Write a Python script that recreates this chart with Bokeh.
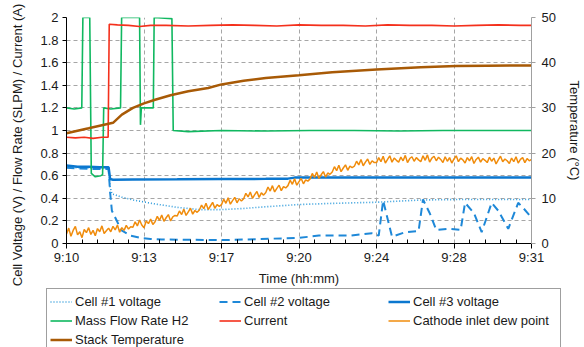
from bokeh.plotting import figure
from bokeh.layouts import column
from bokeh.models import Range1d, LinearAxis, FixedTicker, Legend, LegendItem
from bokeh.embed import file_html
from bokeh.resources import INLINE

FONT = "Liberation Sans"

# ---------------- data ----------------
# time is minutes after 9:10
x_ticks = [0, 3.5, 7, 10.5, 14, 17.5, 21]
x_tick_labels = ["9:10", "9:13", "9:17", "9:20", "9:24", "9:28", "9:31"]
y_left_ticks = [0, 0.2, 0.4, 0.6, 0.8, 1, 1.2, 1.4, 1.6, 1.8, 2]
y_left_labels = ["0", "0.2", "0.4", "0.6", "0.8", "1", "1.2", "1.4", "1.6", "1.8", "2"]
y_right_ticks = [0, 10, 20, 30, 40, 50]

c1_t = [0, 0.5, 1.0, 1.5, 1.9, 1.97, 2.05, 2.5, 3.0, 4.0, 5.0, 6.0, 7.0, 8.0, 9.0, 10.5, 12.0, 14.0, 16.0, 18.0, 21.0]
c1_v = [0.675, 0.67, 0.668, 0.665, 0.665, 0.5, 0.44, 0.41, 0.385, 0.35, 0.32, 0.30, 0.30, 0.31, 0.325, 0.345, 0.355, 0.365, 0.385, 0.39, 0.39]

c2_t = [0, 0.5, 1.0, 1.5, 1.9, 1.97, 2.05, 2.3, 2.45, 2.9, 3.35, 3.8, 4.3, 7.0, 8.0, 10.5, 11.4, 12.8, 13.8, 14.1,
        14.3, 14.7, 15.3, 15.9, 16.1, 16.4, 16.7, 17.3, 17.8, 18.0, 18.4, 18.75, 19.2, 19.5, 19.95, 20.4, 20.6, 21.0]
c2_v = [0.67, 0.665, 0.66, 0.66, 0.66, 0.45, 0.29, 0.19, 0.12, 0.07, 0.05, 0.04, 0.035, 0.03, 0.035, 0.05, 0.07, 0.07, 0.09, 0.07,
        0.38, 0.06, 0.1, 0.11, 0.39, 0.27, 0.12, 0.13, 0.12, 0.36, 0.27, 0.1, 0.36, 0.29, 0.13, 0.36, 0.32, 0.23]

c3_t = [0, 0.5, 1.0, 1.5, 1.9, 1.97, 2.1, 3, 5, 7, 9, 10, 10.3, 12, 15, 18, 21]
c3_v = [0.69, 0.68, 0.68, 0.675, 0.675, 0.57, 0.565, 0.567, 0.568, 0.57, 0.572, 0.574, 0.583, 0.584, 0.585, 0.585, 0.585]

flow_t = [0, 0.35, 0.69, 0.74, 1.05, 1.12, 1.3, 1.55, 1.63, 1.68, 2.0, 2.44, 2.49, 3.30, 3.34, 3.38, 3.92, 3.96, 4.76, 4.82,
          5.5, 7, 9, 11, 13, 15, 17, 19, 21]
flow_v = [1.2, 1.19, 1.2, 2.0, 2.0, 0.62, 0.59, 0.6, 0.61, 1.2, 1.19, 1.2, 2.0, 2.0, 1.05, 1.2, 1.2, 2.0, 1.99, 1.0,
          0.99, 1.0, 0.995, 1.0, 1.0, 0.995, 1.0, 1.0, 1.0]

cur_t = [0, 0.4, 0.8, 1.2, 1.6, 1.88, 1.93, 2.3, 2.8, 3.3, 3.8, 4.5, 5.5, 6.5, 7.5, 8.5, 9.5, 10.5, 11.5, 12.5,
         13.5, 14.5, 15.5, 16.5, 17.5, 18.5, 19.5, 20.5, 21]
cur_a = [0.94, 0.935, 0.94, 0.93, 0.94, 0.94, 1.94, 1.935, 1.93, 1.92, 1.93, 1.93, 1.925, 1.93, 1.935, 1.93, 1.925, 1.935, 1.93, 1.93,
         1.925, 1.935, 1.93, 1.93, 1.925, 1.93, 1.935, 1.93, 1.93]

# cathode inlet dew point (deg C), sampled every 0.1 min
dew_c = [
    2.1, 3.4, 1.6, 2.9, 3.8, 1.9, 2.6, 1.3, 3.1, 2.4,
    3.5, 2.0, 2.9, 1.7, 3.3, 2.6, 3.9, 2.2, 2.8, 3.4,
    2.6, 3.8, 3.0, 4.1, 2.5, 3.5, 2.9, 4.0, 3.2, 3.7,
    3.6, 4.8, 3.9, 5.2, 4.1, 3.5, 5.0, 4.4, 5.4, 4.2,
    4.8, 6.0, 5.1, 6.3, 4.9, 5.7, 6.4, 5.0, 5.9, 6.2,
    6.1, 7.2, 6.4, 7.6, 6.2, 7.0, 7.8, 6.5, 7.3, 6.9,
    7.4, 8.5, 7.7, 8.9, 7.5, 8.3, 9.1, 7.8, 8.6, 8.2,
    8.6, 9.8, 8.9, 10.1, 8.7, 9.5, 10.2, 9.0, 9.9, 9.4,
    9.9, 11.1, 10.3, 11.4, 10.0, 10.8, 11.5, 10.2, 11.2, 10.7,
    11.3, 12.5, 11.6, 12.8, 11.4, 12.2, 12.9, 11.7, 12.6, 12.3,
    12.8, 14.0, 13.1, 14.3, 12.9, 13.7, 14.4, 13.2, 14.1, 13.8,
    14.3, 15.5, 14.6, 15.8, 14.4, 15.2, 15.9, 14.7, 15.6, 15.3,
    15.8, 17.0, 16.1, 17.3, 15.9, 16.7, 17.4, 16.2, 17.1, 16.8,
    17.1, 18.2, 17.4, 18.6, 17.2, 18.0, 18.7, 17.5, 18.3, 17.9,
    17.9, 19.0, 18.1, 19.3, 17.8, 18.6, 19.4, 18.0, 18.9, 18.4,
    18.0, 19.1, 18.3, 19.5, 17.9, 18.8, 19.2, 18.2, 19.0, 18.5,
    18.1, 19.4, 18.4, 19.6, 18.0, 18.9, 19.3, 18.3, 19.1, 18.6,
    17.9, 19.2, 18.2, 19.0, 17.8, 18.7, 19.4, 18.1, 18.9, 18.5,
    17.8, 19.0, 18.3, 19.2, 17.7, 18.6, 19.1, 18.0, 18.8, 18.4,
    17.9, 19.1, 18.2, 18.9, 17.6, 18.5, 19.3, 18.1, 18.7, 18.3,
    17.7, 18.9, 18.1, 19.2, 17.8, 18.6, 19.0, 17.9, 18.8, 18.3,
    18.6,
]
dew_t = [i / 10 for i in range(len(dew_c))]

stack_t = [0, 1, 1.9, 2.1, 2.5, 3.0, 3.5, 4.0, 4.7, 5.5, 6.4, 7.0, 8.0, 9.0, 10.5, 12.0, 14.0, 16.0, 17.6, 19.0, 21.0]
stack_c = [24.4, 25.5, 26.5, 26.7, 28.5, 30.0, 31.0, 31.8, 32.8, 33.7, 34.4, 35.2, 36.0, 36.6, 37.2, 37.9, 38.5, 39.0, 39.25, 39.35, 39.4]

left_title = "Cell Voltage (V) / Flow Rate (SLPM) / Current (A)"
series_names = ["Cell #1 voltage", "Cell #2 voltage", "Cell #3 voltage", "Mass Flow Rate H2",
                "Current", "Cathode inlet dew point", "Stack Temperature"]
series_data = [(c1_t, c1_v), (c2_t, c2_v), (c3_t, c3_v), (flow_t, flow_v),
               (cur_t, cur_a), (dew_t, dew_c), (stack_t, stack_c)]
on_temp_axis = [False, False, False, False, False, True, True]

# line styles of the seven series (same order as series_names)
STYLES = [
    dict(line_color="#2E9BDB", line_width=1.6, line_dash="1 2"),
    dict(line_color="#1E88D8", line_width=2, line_dash="8 5"),
    dict(line_color="#0B77CF", line_width=2.5),
    dict(line_color="#10B860", line_width=1.6),
    dict(line_color="#F4301C", line_width=1.6),
    dict(line_color="#F08C0C", line_width=1.5),
    dict(line_color="#A85A06", line_width=2.5),
]

# ---------------- main figure ----------------
p = figure(width=584, height=288, x_range=Range1d(0, 21), y_range=Range1d(0, 2),
           output_backend="svg", toolbar_location=None,
           min_border_left=66, min_border_right=51, min_border_top=17, min_border_bottom=45)
p.frame_align = False
p.outline_line_color = None
p.background_fill_color = "white"
p.border_fill_color = "white"
p.extra_y_ranges = {"temp": Range1d(0, 50)}

GRID = "#a6a6a6"
p.xgrid.grid_line_color = GRID
p.xgrid.grid_line_dash = "4 3"
p.ygrid.grid_line_color = GRID
p.ygrid.grid_line_dash = "4 3"

xa = p.xaxis[0]
xa.ticker = FixedTicker(ticks=x_ticks, minor_ticks=[a + k * 0.7 for a in x_ticks[:-1] for k in range(1, 5)])
xa.major_label_overrides = dict(zip(x_ticks, x_tick_labels))
xa.axis_label = "Time (hh:mm)"
xa.axis_line_color = "black"
xa.major_tick_line_color = "black"
xa.minor_tick_line_color = "black"
xa.major_tick_out = 5
xa.major_tick_in = 0
xa.minor_tick_in = 4
xa.minor_tick_out = 0
xa.major_label_standoff = 1
xa.axis_label_standoff = 3

ya = p.yaxis[0]
ya.ticker = FixedTicker(ticks=y_left_ticks)
ya.major_label_overrides = dict(zip(y_left_ticks, y_left_labels))
# trailing non-breaking spaces move the centred title a little downwards, as in the reference
ya.axis_label = left_title + "\u00a0" * 8
ya.axis_line_color = "black"
ya.major_tick_line_color = "black"
ya.major_tick_out = 4
ya.major_tick_in = 0
ya.minor_tick_line_color = None
ya.major_label_standoff = 4
ya.axis_label_standoff = 12

ra = LinearAxis(y_range_name="temp", ticker=FixedTicker(ticks=y_right_ticks),
                axis_label="Temperature (°C)")
ra.axis_line_color = "#a0a0a0"
ra.major_tick_line_color = "#a0a0a0"
ra.minor_tick_line_color = None
ra.major_tick_out = 4
ra.major_tick_in = 0
ra.major_label_standoff = 6
ra.axis_label_standoff = 8
p.add_layout(ra, "right")

for ax in (xa, ya, ra):
    ax.major_label_text_font = FONT
    ax.major_label_text_font_size = "13px"
    ax.major_label_text_color = "#1a1a1a"
    ax.axis_label_text_font = FONT
    ax.axis_label_text_font_size = "13px"
    ax.axis_label_text_font_style = "normal"
    ax.axis_label_text_color = "#1a1a1a"

for (xs, ys), st, temp in zip(series_data, STYLES, on_temp_axis):
    if temp:
        p.line(xs, ys, y_range_name="temp", **st)
    else:
        p.line(xs, ys, **st)

# ---------------- legend strip (below the chart, cut off like the reference) ----------------
# its proxy lines use the same series, but its ranges keep them out of view
lg = figure(width=584, height=59, x_range=Range1d(100, 101), y_range=Range1d(100, 101),
            output_backend="svg", toolbar_location=None, x_axis_type=None, y_axis_type=None,
            min_border_left=0, min_border_right=0, min_border_top=0, min_border_bottom=0)
lg.frame_align = False
lg.outline_line_color = None
lg.grid.visible = False
lg.background_fill_color = "white"
lg.border_fill_color = "white"

items = []
for name, (xs, ys), st in zip(series_names, series_data, STYLES):
    r = lg.line(xs, ys, **st)
    items.append(LegendItem(label=name, renderers=[r]))

legend = Legend(items=items, location=(46, -6), orientation="horizontal", ncols=3,
                glyph_width=22, glyph_height=19, label_height=19, label_width=144,
                label_standoff=3, spacing=0, padding=3, margin=0,
                label_text_font=FONT, label_text_font_size="13px", label_text_color="#1a1a1a",
                border_line_color="#404040", border_line_width=1,
                background_fill_color="white", background_fill_alpha=1)
lg.add_layout(legend)

page = column(p, lg, spacing=0)
open("out.html", "w").write(file_html(page, INLINE))
